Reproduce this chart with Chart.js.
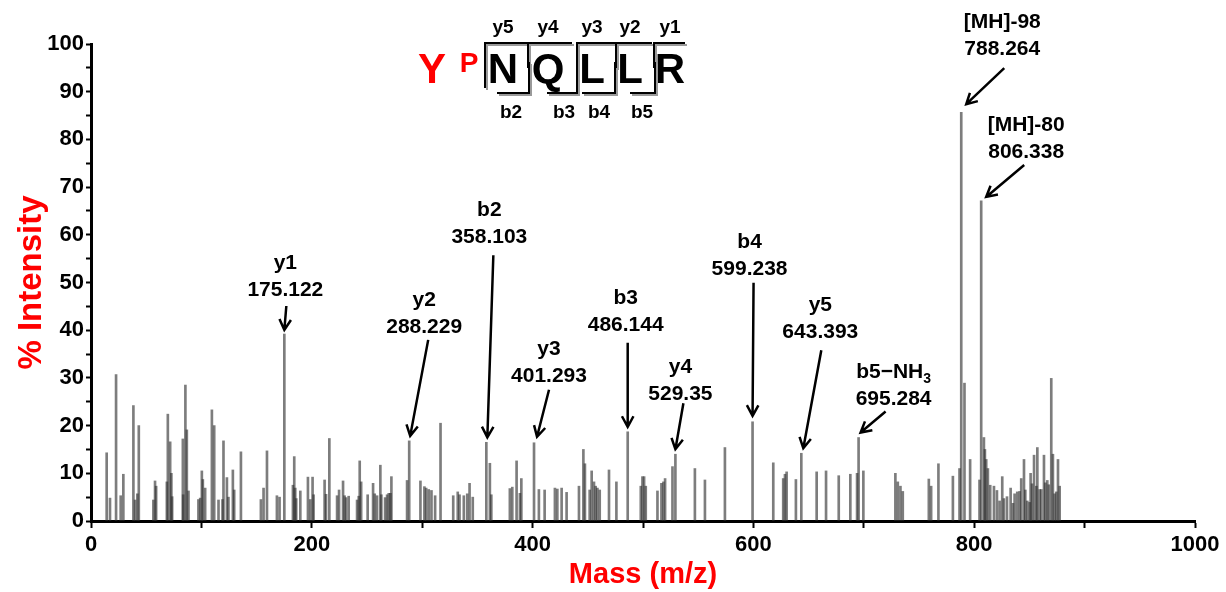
<!DOCTYPE html>
<html>
<head>
<meta charset="utf-8">
<script src="https://cdn.jsdelivr.net/npm/chart.js"></script>
<style>
html, body { margin: 0; padding: 0; background: #fff; }
</style>
</head>
<body>
<canvas id="myChart" width="1226" height="592"></canvas>
<script>
// peaks (m/z, % intensity)
const massValues = [14.2,17.2,22.7,26.9,29.3,38.4,39.9,42.0,43.3,56.5,58.0,59.0,68.7,69.6,71.7,72.8,73.5,83.2,83.5,85.5,86.8,88.3,97.3,98.9,100.4,101.3,103.4,109.5,111.6,115.5,119.1,120.0,123.1,124.5,128.5,129.7,135.8,153.9,156.3,159.4,168.4,170.8,
  182.9,184.1,185.0,185.9,189.6,196.5,198.6,200.7,201.6,211.6,212.9,215.9,222.9,224.7,228.3,229.7,231.0,233.4,241.0,242.5,243.4,244.7,250.6,255.5,257.0,259.1,262.1,263.0,266.4,268.2,269.7,271.2,272.1,286.3,298.4,302.0,303.6,305.9,308.4,311.7,316.6,328.1,332.2,333.8,337.7,340.8,342.9,345.8,
  361.3,362.6,379.4,381.6,385.5,388.5,389.8,405.7,410.9,420.2,422.4,426.3,430.8,442.0,446.0,447.4,451.7,453.5,455.6,457.1,458.7,460.8,469.2,475.9,498.0,499.5,501.0,502.5,513.1,516.7,518.5,520.0,
  526.7,547.0,556.1,574.2,618.0,627.0,628.6,630.1,638.5,657.3,665.8,677.3,687.8,693.9,699.6,
  728.6,730.8,733.2,735.3,758.9,761.0,767.6,
  780.7,786.7,791.2,796.3,804.8,808.8,809.7,810.9,812.4,814.5,817.9,820.6,823.0,825.4,826.9,829.7,833.0,835.1,836.6,839.0,841.1,842.6,845.1,846.3,848.1,850.2,851.1,852.4,854.2,856.3,857.2,859.3,860.8,863.2,864.4,866.2,867.5,869.8,871.3,872.8,874.4,875.9,877.4];
const intensityValues = [14.3,4.8,30.7,5.3,9.8,24.2,4.4,5.7,20.0,4.4,8.4,7.3,8.2,22.4,16.6,10.0,5.1,17.2,5.5,28.5,19.1,6.3,4.5,4.8,10.5,8.7,6.9,23.3,20.0,4.4,4.5,16.8,9.1,5.0,10.7,6.5,14.5,4.5,6.9,14.7,5.3,5.0,
  7.5,13.5,6.9,4.7,6.3,9.2,4.5,9.2,5.5,8.6,5.6,17.3,5.3,6.5,8.4,5.3,4.9,5.2,4.4,5.2,12.6,8.2,5.5,7.9,5.7,5.3,11.7,5.5,4.9,5.5,5.8,5.8,9.3,8.5,8.4,7.2,6.9,6.6,6.4,5.3,20.5,5.3,6.1,5.5,5.3,5.7,7.9,5.0,
  12.1,5.5,6.8,7.1,12.6,5.8,8.9,6.6,6.5,6.9,6.7,6.9,6.0,7.3,15.0,12.0,6.5,10.5,8.2,7.3,6.9,6.5,10.7,8.2,7.3,9.3,9.3,7.3,6.3,7.9,8.2,8.9,
  11.4,11.0,8.6,15.4,12.2,8.9,9.8,10.3,8.7,10.3,10.5,9.5,9.8,10.0,10.5,
  10.0,8.2,7.3,6.2,8.8,7.3,12.0,
  9.4,11.0,28.9,12.9,8.6,17.5,15.0,12.9,11.0,7.5,7.3,6.4,4.2,9.3,4.7,5.1,6.9,3.7,5.7,6.1,6.2,8.9,12.9,6.5,4.2,3.9,10.0,7.8,13.8,7.3,15.4,6.6,6.6,13.8,8.0,8.5,7.6,29.9,14.0,5.7,6.1,12.9,7.3];

// labelled fragment ions
const ionNames = ['y1','y2','b2','y3','b3','y4','b4','y5','b5\u2212NH3','[MH]-98','[MH]-80'];
const ionMasses = [175.122,288.229,358.103,401.293,486.144,529.35,599.238,643.393,695.284,788.264,806.338];
const ionIntensities = [39.2,16.8,16.5,16.4,18.7,14.0,20.8,14.2,17.5,85.7,67.1];

const xTickLabels = [0,200,400,600,800,1000];
const yTickLabels = [0,10,20,30,40,50,60,70,80,90,100];

const sequence = ['N','Q','L','L','R'];
const yIonTags = ['y5','y4','y3','y2','y1'];
const bIonTags = ['b2','b3','b4','b5'];

// label placement relative to peak top: [textDx, textDy, arrowFromDx, arrowFromDy, arrowToDx, arrowToDy]
const labelPlace = [
  [1,-71, 2,-28, 0,-4],
  [15,-141, 19,-101, 1,-5],
  [3,-232, 7,-187, 1,-5],
  [15,-94, 15,-53, 3,-6],
  [-2,-134, 0,-89, 0,-5],
  [5,-87, 8,-51, 0,-5],
  [-3,-180, 1,-139, 0,-6],
  [19,-148, 20,-103, 2,-5],
  [35,-65, 27,-26, 2,-5],
  [41,-90, 43,-44, 5,-8],
  [45,-76, 43,-36, 5,-4]
];

var peaks = [];
for (var i = 0; i < massValues.length; i++) peaks.push({x: massValues[i], y: intensityValues[i]});
for (var i = 0; i < ionMasses.length; i++) peaks.push({x: ionMasses[i], y: ionIntensities[i]});

const FONT = '"Liberation Sans", Arial, sans-serif';

function arrow(ctx, x0, y0, x1, y1) {
  var a = Math.atan2(y1 - y0, x1 - x0);
  var h = 12, s = 0.5;
  ctx.beginPath();
  ctx.moveTo(x0, y0);
  ctx.lineTo(x1, y1);
  ctx.moveTo(x1 - h * Math.cos(a - s), y1 - h * Math.sin(a - s));
  ctx.lineTo(x1, y1);
  ctx.lineTo(x1 - h * Math.cos(a + s), y1 - h * Math.sin(a + s));
  ctx.stroke();
}

function ionName(ctx, name, cx, cy) {
  if (name.endsWith('NH3')) {
    var main = name.slice(0, -1);
    ctx.font = 'bold 21px ' + FONT;
    var w1 = ctx.measureText(main).width;
    ctx.font = 'bold 14px ' + FONT;
    var w2 = ctx.measureText('3').width;
    var left = cx - (w1 + w2) / 2;
    ctx.textAlign = 'left';
    ctx.font = 'bold 21px ' + FONT;
    ctx.fillText(main, left, cy);
    ctx.font = 'bold 14px ' + FONT;
    ctx.fillText('3', left + w1, cy + 7);
    ctx.textAlign = 'center';
    ctx.font = 'bold 21px ' + FONT;
  } else {
    ctx.fillText(name, cx, cy);
  }
}

function seg(ctx, pts) {
  ctx.beginPath();
  ctx.moveTo(pts[0][0], pts[0][1]);
  for (var k = 1; k < pts.length; k++) ctx.lineTo(pts[k][0], pts[k][1]);
  ctx.stroke();
}

const annotate = {
  id: 'annotate',
  afterDraw(chart) {
    const ctx = chart.ctx, x = chart.scales.x, y = chart.scales.y;
    ctx.save();
    ctx.fillStyle = '#000';
    ctx.strokeStyle = '#000';
    ctx.lineWidth = 2.5;
    ctx.textAlign = 'center';
    ctx.textBaseline = 'middle';
    ctx.font = 'bold 21px ' + FONT;
    for (var i = 0; i < ionNames.length; i++) {
      var px = x.getPixelForValue(ionMasses[i]);
      var py = y.getPixelForValue(ionIntensities[i]);
      var p = labelPlace[i];
      ionName(ctx, ionNames[i], px + p[0], py + p[1]);
      ctx.fillText(String(ionMasses[i]), px + p[0], py + p[1] + 27);
      arrow(ctx, px + p[2], py + p[3], px + p[4], py + p[5]);
    }

    // peptide sequence with fragment brackets
    ctx.textBaseline = 'alphabetic';
    ctx.fillStyle = '#ff0000';
    ctx.font = 'bold 42px ' + FONT;
    ctx.fillText('Y', 432, 83);
    ctx.font = 'bold 28px ' + FONT;
    ctx.fillText('P', 469, 72);
    ctx.fillStyle = '#000';
    var cx = [503, 548, 592, 630, 670];
    ctx.font = 'bold 42px ' + FONT;
    sequence.forEach(function (r, k) { ctx.fillText(r, cx[k], 83); });
    ctx.font = 'bold 19px ' + FONT;
    yIonTags.forEach(function (t, k) { ctx.fillText(t, cx[k], 33); });
    var bx = [511, 564, 599, 642];
    bIonTags.forEach(function (t, k) { ctx.fillText(t, bx[k], 118); });

    var yv = [485, 528, 577, 616, 654], ye = [527, 572, 615, 652, 685];
    var bs = [497, 547, 582, 630], be = [529, 577, 615, 655];
    [['#9a9a9a', 2], ['#000', 0]].forEach(function (pass) {
      ctx.strokeStyle = pass[0];
      ctx.lineWidth = 2;
      var o = pass[1];
      for (var k = 0; k < yv.length; k++) {
        seg(ctx, [[yv[k] + o, (k === 0 ? 88 : 68) + o], [yv[k] + o, 43 + o], [ye[k] + o, 43 + o]]);
      }
      for (var k = 0; k < bs.length; k++) {
        seg(ctx, [[bs[k] + o, 93 + o], [be[k] + o, 93 + o], [be[k] + o, 62 + o]]);
      }
    });
    ctx.restore();
  }
};

const ctx = document.getElementById('myChart');
var spectrum = new Chart(ctx, {
  type: 'bar',
  data: {
    datasets: [{
      label: 'intensity',
      data: peaks,
      backgroundColor: 'rgba(45, 45, 45, 0.62)',
      borderWidth: 0,
      barThickness: 2
    }]
  },
  options: {
    responsive: false,
    animation: false,
    layout: { padding: { top: 44, right: 31, left: 0, bottom: 0 } },
    plugins: { legend: { display: false }, tooltip: { enabled: false } },
    scales: {
      x: {
        type: 'linear',
        min: 0,
        max: 1000,
        offset: false,
        afterFit: function (s) { s.height = 71; },
        border: { color: '#000', width: 3 },
        grid: { offset: false, drawOnChartArea: false, drawTicks: true, tickLength: 7, tickColor: '#000', tickWidth: 2 },
        ticks: {
          stepSize: 100,
          autoSkip: false,
          maxRotation: 0,
          padding: 4,
          color: '#000',
          font: { family: FONT, size: 22, weight: 'bold' },
          callback: function (v) { return xTickLabels.indexOf(v) >= 0 ? v : ''; }
        },
        title: {
          display: true,
          text: 'Mass (m/z)',
          color: '#ff0000',
          font: { family: FONT, size: 29, weight: 'bold' },
          padding: { top: 0, bottom: 0 }
        }
      },
      y: {
        min: 0,
        max: 100,
        afterFit: function (s) { s.width = 91; },
        border: { color: '#000', width: 3 },
        grid: { drawOnChartArea: false, drawTicks: true, tickLength: 5, tickColor: '#000', tickWidth: 2 },
        ticks: {
          stepSize: 5,
          autoSkip: false,
          padding: 2,
          color: '#000',
          font: { family: FONT, size: 22, weight: 'bold' },
          callback: function (v) { return yTickLabels.indexOf(v) >= 0 ? v : ''; }
        },
        title: {
          display: true,
          text: '% Intensity',
          color: '#ff0000',
          font: { family: FONT, size: 33, weight: 'bold' },
          padding: { top: 12, bottom: 0 }
        }
      }
    }
  },
  plugins: [annotate]
});
</script>
</body>
</html>
